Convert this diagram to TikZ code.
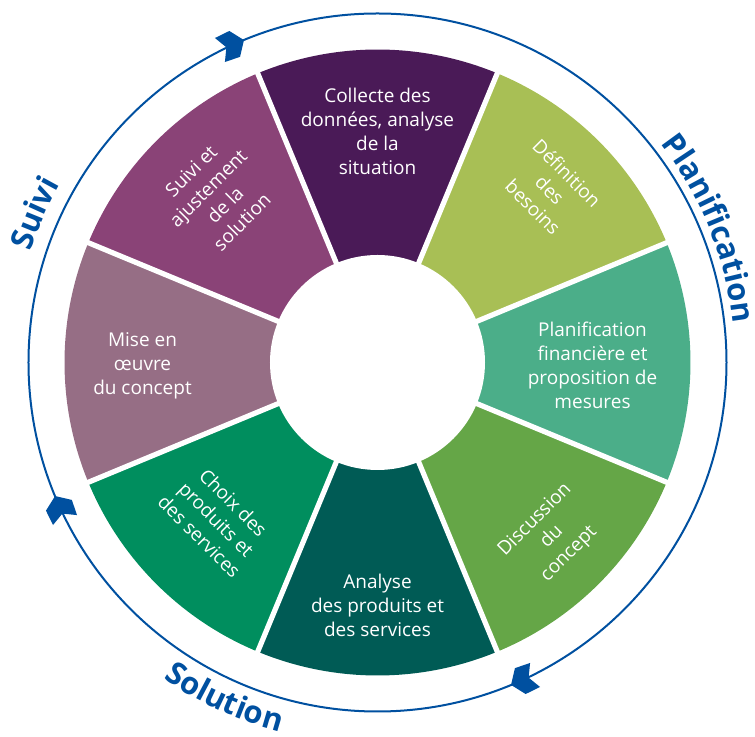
\documentclass[tikz,border=0pt]{standalone}
\usepackage{fontspec}
\setmainfont{Open Sans}
\usetikzlibrary{decorations.text}

\definecolor{ringblue}{HTML}{0050A0}
\definecolor{collecte}{HTML}{4A1A57}
\definecolor{besoins}{HTML}{A8BF55}
\definecolor{planfin}{HTML}{4BAE89}
\definecolor{discussion}{HTML}{65A647}
\definecolor{analyse}{HTML}{005B55}
\definecolor{choix}{HTML}{008E5E}
\definecolor{mise}{HTML}{966E85}
\definecolor{suivi}{HTML}{8A4377}

\newcommand\ringfont{\fontsize{15.5}{18}\selectfont\bfseries\color{ringblue}}

\begin{document}
\begin{tikzpicture}[
    x=0.5pt, y=0.5pt,
    gap/.style={draw=white, line width=2.6pt},
    segtext/.style={text=white, align=center, font=\fontsize{9.5}{12}\selectfont},
    ring/.style={draw=ringblue, line width=1pt},
    chevron/.style={fill=ringblue},
    ringtext/.style={decorate, decoration={text along path, text align=center}}
]

\useasboundingbox (-377.5,-374.5) rectangle (377.5,362.5);

% Sectors
\fill[collecte] (0,0) -- (67.5:313) arc[start angle=67.5, end angle=112.5, radius=313] -- cycle;
\fill[besoins] (0,0) -- (22.5:313) arc[start angle=22.5, end angle=67.5, radius=313] -- cycle;
\fill[planfin] (0,0) -- (-22.5:313) arc[start angle=-22.5, end angle=22.5, radius=313] -- cycle;
\fill[discussion] (0,0) -- (-67.5:313) arc[start angle=-67.5, end angle=-22.5, radius=313] -- cycle;
\fill[analyse] (0,0) -- (-112.5:313) arc[start angle=-112.5, end angle=-67.5, radius=313] -- cycle;
\fill[choix] (0,0) -- (-157.5:313) arc[start angle=-157.5, end angle=-112.5, radius=313] -- cycle;
\fill[mise] (0,0) -- (157.5:313) arc[start angle=157.5, end angle=202.5, radius=313] -- cycle;
\fill[suivi] (0,0) -- (112.5:313) arc[start angle=112.5, end angle=157.5, radius=313] -- cycle;

% Gaps and hole
\draw[gap] (22.5:320) -- (202.5:320);
\draw[gap] (67.5:320) -- (247.5:320);
\draw[gap] (112.5:320) -- (292.5:320);
\draw[gap] (157.5:320) -- (337.5:320);
\fill[white] (0,0) circle[radius=107.5];

% Sector texts
\node[segtext] (collecte) at (0,231) {Collecte des\\données, analyse\\de la\\situation};
\node[segtext, rotate=-45] (besoins) at (45:244) {Définition\\des\\besoins};
\node[segtext] (planfin) at (215,-3) {Planification\\financière et\\proposition de\\mesures};
\node[segtext, rotate=45] (discussion) at (-45:247) {Discussion\\du\\concept};
\node[segtext] (analyse) at (0,-243) {Analyse\\des produits et\\des services};
\node[segtext, rotate=-45] (choix) at (-161,-157) {Choix des\\produits et\\des services};
\node[segtext] (mise) at (-235,-3) {Mise en\\œuvre\\du concept};
\node[segtext, rotate=45] (suivi) at (-161,166) {Suivi et\\ajustement\\de la\\solution};

% Ring with arrows
\draw[ring] (0,0) circle[radius=349];
\fill[chevron, shift={(112.5:349)}, rotate=22.5] (0,0) -- (-10,14) -- (-26,13) -- (-19,0) -- (-26,-13) -- (-10,-14) -- cycle;
\fill[chevron, shift={(202.5:349)}, rotate=112.5] (0,0) -- (-10,14) -- (-26,13) -- (-19,0) -- (-26,-13) -- (-10,-14) -- cycle;
\fill[chevron, shift={(292.5:349)}, rotate=202.5] (0,0) -- (-10,14) -- (-26,13) -- (-19,0) -- (-26,-13) -- (-10,-14) -- cycle;

% Ring labels
\path[ringtext, decoration={text={|\ringfont|Suivi}}] (201.5:364) arc[start angle=201.5, end angle=111.5, radius=364];
\path[ringtext, decoration={text={|\ringfont|Planification}}] (67:358) arc[start angle=67, end angle=-23, radius=358];
\path[ringtext, decoration={text={|\ringfont|Solution}}] (200.5:382) arc[start angle=200.5, end angle=290.5, radius=382];

\end{tikzpicture}
\end{document}
